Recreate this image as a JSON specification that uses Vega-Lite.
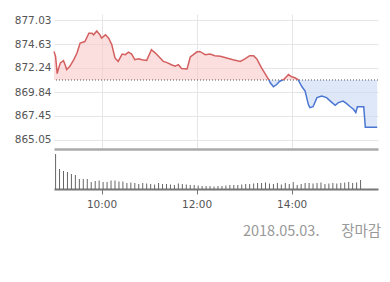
{
  "$schema": "https://vega.github.io/schema/vega-lite/v6.json",
  "padding": {"left": 14, "top": 14, "right": 5, "bottom": 5},
  "background": "white",
  "config": {"view": {"stroke": null}, "font": "DejaVu Sans", "axis": {"labelOverlap": false}},
  "title": {"text": "2018.05.03.\u2003\u2002장마감", "orient": "bottom", "anchor": "end", "font": "Noto Sans CJK KR", "fontSize": 14.5, "fontWeight": "normal", "color": "#999999", "offset": 15, "dx": 1},
  "spacing": 2,
  "bounds": "flush",
  "datasets": {
    "price": [
      {"t": "2018-05-03T09:00", "p": 873.89},
      {"t": "2018-05-03T09:02", "p": 873.40},
      {"t": "2018-05-03T09:04", "p": 871.68},
      {"t": "2018-05-03T09:06", "p": 872.25},
      {"t": "2018-05-03T09:08", "p": 872.74},
      {"t": "2018-05-03T09:12", "p": 872.97},
      {"t": "2018-05-03T09:14", "p": 872.57},
      {"t": "2018-05-03T09:16", "p": 872.08},
      {"t": "2018-05-03T09:20", "p": 872.41},
      {"t": "2018-05-03T09:25", "p": 873.07},
      {"t": "2018-05-03T09:29", "p": 873.73},
      {"t": "2018-05-03T09:33", "p": 874.72},
      {"t": "2018-05-03T09:39", "p": 874.88},
      {"t": "2018-05-03T09:44", "p": 875.71},
      {"t": "2018-05-03T09:48", "p": 875.71},
      {"t": "2018-05-03T09:50", "p": 875.55},
      {"t": "2018-05-03T09:54", "p": 875.94},
      {"t": "2018-05-03T09:58", "p": 875.55},
      {"t": "2018-05-03T10:00", "p": 875.22},
      {"t": "2018-05-03T10:05", "p": 875.55},
      {"t": "2018-05-03T10:09", "p": 875.22},
      {"t": "2018-05-03T10:13", "p": 874.56},
      {"t": "2018-05-03T10:17", "p": 873.24},
      {"t": "2018-05-03T10:21", "p": 872.90},
      {"t": "2018-05-03T10:26", "p": 873.63},
      {"t": "2018-05-03T10:30", "p": 873.57},
      {"t": "2018-05-03T10:34", "p": 873.83},
      {"t": "2018-05-03T10:38", "p": 873.63},
      {"t": "2018-05-03T10:42", "p": 873.07},
      {"t": "2018-05-03T10:47", "p": 873.17},
      {"t": "2018-05-03T10:51", "p": 873.07},
      {"t": "2018-05-03T10:57", "p": 873.00},
      {"t": "2018-05-03T11:03", "p": 874.06},
      {"t": "2018-05-03T11:08", "p": 873.73},
      {"t": "2018-05-03T11:14", "p": 873.24},
      {"t": "2018-05-03T11:18", "p": 872.90},
      {"t": "2018-05-03T11:22", "p": 872.80},
      {"t": "2018-05-03T11:29", "p": 872.54},
      {"t": "2018-05-03T11:33", "p": 872.41},
      {"t": "2018-05-03T11:37", "p": 872.57},
      {"t": "2018-05-03T11:41", "p": 872.18},
      {"t": "2018-05-03T11:48", "p": 872.15},
      {"t": "2018-05-03T11:52", "p": 873.34},
      {"t": "2018-05-03T11:56", "p": 873.57},
      {"t": "2018-05-03T12:00", "p": 873.83},
      {"t": "2018-05-03T12:04", "p": 873.89},
      {"t": "2018-05-03T12:11", "p": 873.57},
      {"t": "2018-05-03T12:17", "p": 873.63},
      {"t": "2018-05-03T12:23", "p": 873.47},
      {"t": "2018-05-03T12:30", "p": 873.40},
      {"t": "2018-05-03T12:38", "p": 873.24},
      {"t": "2018-05-03T12:46", "p": 873.07},
      {"t": "2018-05-03T12:55", "p": 872.90},
      {"t": "2018-05-03T13:01", "p": 873.14},
      {"t": "2018-05-03T13:07", "p": 873.47},
      {"t": "2018-05-03T13:12", "p": 873.47},
      {"t": "2018-05-03T13:16", "p": 873.14},
      {"t": "2018-05-03T13:22", "p": 872.25},
      {"t": "2018-05-03T13:31", "p": 871.09},
      {"t": "2018-05-03T13:33", "p": 870.76},
      {"t": "2018-05-03T13:37", "p": 870.36},
      {"t": "2018-05-03T13:41", "p": 870.59},
      {"t": "2018-05-03T13:45", "p": 870.92},
      {"t": "2018-05-03T13:50", "p": 871.09},
      {"t": "2018-05-03T13:56", "p": 871.58},
      {"t": "2018-05-03T14:00", "p": 871.36},
      {"t": "2018-05-03T14:04", "p": 871.26},
      {"t": "2018-05-03T14:08", "p": 871.09},
      {"t": "2018-05-03T14:13", "p": 870.36},
      {"t": "2018-05-03T14:17", "p": 869.93},
      {"t": "2018-05-03T14:21", "p": 868.61},
      {"t": "2018-05-03T14:23", "p": 868.28},
      {"t": "2018-05-03T14:27", "p": 868.37},
      {"t": "2018-05-03T14:32", "p": 869.28},
      {"t": "2018-05-03T14:38", "p": 869.43},
      {"t": "2018-05-03T14:44", "p": 869.28},
      {"t": "2018-05-03T14:51", "p": 868.78},
      {"t": "2018-05-03T14:55", "p": 868.52},
      {"t": "2018-05-03T14:59", "p": 868.78},
      {"t": "2018-05-03T15:05", "p": 868.94},
      {"t": "2018-05-03T15:09", "p": 868.71},
      {"t": "2018-05-03T15:14", "p": 868.37},
      {"t": "2018-05-03T15:18", "p": 868.12},
      {"t": "2018-05-03T15:21", "p": 867.79},
      {"t": "2018-05-03T15:23", "p": 868.37},
      {"t": "2018-05-03T15:31", "p": 868.37},
      {"t": "2018-05-03T15:33", "p": 866.31},
      {"t": "2018-05-03T15:48", "p": 866.31}
    ],
    "volume": [
      {"t": "2018-05-03T09:02", "v": 35},
      {"t": "2018-05-03T09:07", "v": 20},
      {"t": "2018-05-03T09:12", "v": 18},
      {"t": "2018-05-03T09:17", "v": 17},
      {"t": "2018-05-03T09:22", "v": 15},
      {"t": "2018-05-03T09:27", "v": 14},
      {"t": "2018-05-03T09:32", "v": 10},
      {"t": "2018-05-03T09:37", "v": 10},
      {"t": "2018-05-03T09:42", "v": 10},
      {"t": "2018-05-03T09:47", "v": 7},
      {"t": "2018-05-03T09:52", "v": 8},
      {"t": "2018-05-03T09:57", "v": 8.5},
      {"t": "2018-05-03T10:02", "v": 7},
      {"t": "2018-05-03T10:07", "v": 7},
      {"t": "2018-05-03T10:12", "v": 8.5},
      {"t": "2018-05-03T10:17", "v": 8.5},
      {"t": "2018-05-03T10:22", "v": 7.5},
      {"t": "2018-05-03T10:27", "v": 7.5},
      {"t": "2018-05-03T10:32", "v": 6},
      {"t": "2018-05-03T10:37", "v": 6.5},
      {"t": "2018-05-03T10:42", "v": 6},
      {"t": "2018-05-03T10:47", "v": 5},
      {"t": "2018-05-03T10:52", "v": 6},
      {"t": "2018-05-03T10:57", "v": 5.5},
      {"t": "2018-05-03T11:02", "v": 5},
      {"t": "2018-05-03T11:07", "v": 4.5},
      {"t": "2018-05-03T11:12", "v": 6},
      {"t": "2018-05-03T11:17", "v": 5},
      {"t": "2018-05-03T11:22", "v": 5},
      {"t": "2018-05-03T11:27", "v": 4.5},
      {"t": "2018-05-03T11:32", "v": 4},
      {"t": "2018-05-03T11:37", "v": 5.5},
      {"t": "2018-05-03T11:42", "v": 5},
      {"t": "2018-05-03T11:47", "v": 4.5},
      {"t": "2018-05-03T11:52", "v": 4},
      {"t": "2018-05-03T11:57", "v": 4},
      {"t": "2018-05-03T12:02", "v": 3.5},
      {"t": "2018-05-03T12:07", "v": 3},
      {"t": "2018-05-03T12:12", "v": 3},
      {"t": "2018-05-03T12:17", "v": 3},
      {"t": "2018-05-03T12:22", "v": 2.5},
      {"t": "2018-05-03T12:27", "v": 3},
      {"t": "2018-05-03T12:32", "v": 3},
      {"t": "2018-05-03T12:37", "v": 3.5},
      {"t": "2018-05-03T12:42", "v": 4},
      {"t": "2018-05-03T12:47", "v": 4},
      {"t": "2018-05-03T12:52", "v": 4},
      {"t": "2018-05-03T12:57", "v": 4.5},
      {"t": "2018-05-03T13:02", "v": 5},
      {"t": "2018-05-03T13:07", "v": 5},
      {"t": "2018-05-03T13:12", "v": 5.5},
      {"t": "2018-05-03T13:17", "v": 6},
      {"t": "2018-05-03T13:22", "v": 6},
      {"t": "2018-05-03T13:27", "v": 6.5},
      {"t": "2018-05-03T13:32", "v": 5.5},
      {"t": "2018-05-03T13:37", "v": 5},
      {"t": "2018-05-03T13:42", "v": 6},
      {"t": "2018-05-03T13:47", "v": 4.5},
      {"t": "2018-05-03T13:52", "v": 6},
      {"t": "2018-05-03T13:57", "v": 5},
      {"t": "2018-05-03T14:02", "v": 7},
      {"t": "2018-05-03T14:07", "v": 4},
      {"t": "2018-05-03T14:12", "v": 5},
      {"t": "2018-05-03T14:17", "v": 6},
      {"t": "2018-05-03T14:22", "v": 6},
      {"t": "2018-05-03T14:27", "v": 5.5},
      {"t": "2018-05-03T14:32", "v": 6},
      {"t": "2018-05-03T14:37", "v": 6.5},
      {"t": "2018-05-03T14:42", "v": 5},
      {"t": "2018-05-03T14:47", "v": 5.5},
      {"t": "2018-05-03T14:52", "v": 6},
      {"t": "2018-05-03T14:57", "v": 5.5},
      {"t": "2018-05-03T15:02", "v": 6},
      {"t": "2018-05-03T15:07", "v": 6.5},
      {"t": "2018-05-03T15:12", "v": 7},
      {"t": "2018-05-03T15:17", "v": 6},
      {"t": "2018-05-03T15:22", "v": 6.5},
      {"t": "2018-05-03T15:27", "v": 9}
    ]
  },
  "vconcat": [
    {
      "width": 324,
      "height": 135,
      "layer": [
        {
          "data": {"name": "price"},
          "mark": {"type": "area", "fillOpacity": 0.6, "fill": {"gradient": "linear", "x1": 0, "y1": 0, "x2": 0, "y2": 1, "stops": [{"offset": 0, "color": "#f9c8c8"}, {"offset": 0.5088, "color": "#f9c8c8"}, {"offset": 0.5088, "color": "#c8d8f4"}, {"offset": 1, "color": "#c8d8f4"}]}},
          "encoding": {
            "x": {"field": "t", "type": "temporal", "scale": {"domain": [{"year": 2018, "month": 5, "date": 3, "hours": 9}, {"year": 2018, "month": 5, "date": 3, "hours": 15, "minutes": 49}]}, "axis": {"values": [{"year": 2018, "month": 5, "date": 3, "hours": 10}, {"year": 2018, "month": 5, "date": 3, "hours": 12}, {"year": 2018, "month": 5, "date": 3, "hours": 14}], "labels": false, "ticks": false, "title": null, "grid": true, "gridColor": "#e6e6e6", "gridWidth": 1, "domainColor": "#aaaaaa", "domainWidth": 2.5}},
            "y": {"field": "p", "type": "quantitative", "scale": {"domain": [864.15, 877.63], "zero": false, "nice": false}, "axis": {"values": [865.05, 867.45, 869.84, 872.24, 874.63, 877.03], "format": ".2f", "title": null, "domain": false, "ticks": false, "labelOverlap": false, "labelPadding": 3, "labelColor": "#555555", "labelFontSize": 10.5, "grid": true, "gridColor": "#e6e6e6"}},
            "y2": {"datum": 871.04}
          }
        },
        {
          "data": {"values": [{"base": 871.04}]},
          "mark": {"type": "rule", "stroke": "#555555", "strokeWidth": 1, "strokeDash": [1, 2]},
          "encoding": {"y": {"field": "base", "type": "quantitative", "axis": {"values": [865.05, 867.45, 869.84, 872.24, 874.63, 877.03], "format": ".2f", "title": null, "domain": false, "ticks": false, "labelOverlap": false, "labelPadding": 3, "labelColor": "#555555", "labelFontSize": 10.5, "grid": true, "gridColor": "#e6e6e6"}}}
        },
        {
          "data": {"name": "price"},
          "mark": {"type": "line", "strokeWidth": 1.5, "stroke": {"gradient": "linear", "x1": 0, "y1": 0, "x2": 0, "y2": 1, "stops": [{"offset": 0, "color": "#d45f5f"}, {"offset": 0.5088, "color": "#d45f5f"}, {"offset": 0.5088, "color": "#4a76d2"}, {"offset": 1, "color": "#4a76d2"}]}},
          "encoding": {
            "x": {"field": "t", "type": "temporal"},
            "y": {"field": "p", "type": "quantitative", "axis": {"values": [865.05, 867.45, 869.84, 872.24, 874.63, 877.03], "format": ".2f", "title": null, "domain": false, "ticks": false, "labelOverlap": false, "labelPadding": 3, "labelColor": "#555555", "labelFontSize": 10.5, "grid": true, "gridColor": "#e6e6e6"}}
          }
        }
      ]
    },
    {
      "width": 324,
      "height": 38,
      "data": {"name": "volume"},
      "mark": {"type": "rule", "stroke": "#666666", "strokeWidth": 1},
      "encoding": {
        "x": {"field": "t", "type": "temporal", "scale": {"domain": [{"year": 2018, "month": 5, "date": 3, "hours": 9}, {"year": 2018, "month": 5, "date": 3, "hours": 15, "minutes": 49}]}, "axis": {"values": [{"year": 2018, "month": 5, "date": 3, "hours": 10}, {"year": 2018, "month": 5, "date": 3, "hours": 12}, {"year": 2018, "month": 5, "date": 3, "hours": 14}], "format": "%H:%M", "title": null, "grid": false, "domainColor": "#777777", "domainWidth": 2, "tickColor": "#777777", "tickSize": 5, "labelColor": "#555555", "labelFontSize": 10.5, "labelPadding": 5}},
        "y": {"field": "v", "type": "quantitative", "scale": {"domain": [0, 38]}, "axis": null},
        "y2": {"datum": 0}
      }
    }
  ]
}
